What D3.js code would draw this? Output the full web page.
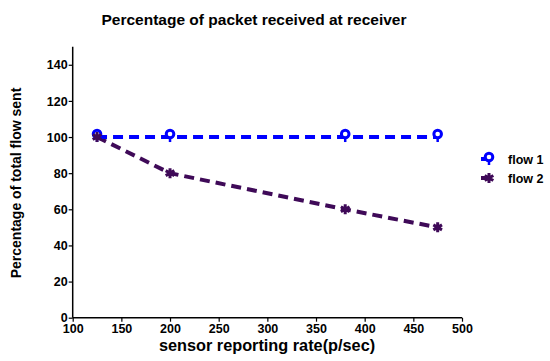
<!DOCTYPE html>
<html>
<head>
  <meta charset="utf-8">
  <script src="https://d3js.org/d3.v7.min.js"></script>
  <style>
    body { margin: 0; padding: 0; background: #fff; }
    text { font-family: "Liberation Sans", Arial, sans-serif; font-weight: bold; }
  </style>
</head>
<body>
  <div id="chart"></div>
  <script>
    // data
    var rates = [125, 200, 380, 475]
    var flow1 = [100, 100, 100, 100]
    var flow2 = [100, 80, 60, 50]
    var seriesNames = ["flow 1", "flow 2"]
    var xTicks = [100, 150, 200, 250, 300, 350, 400, 450, 500]
    var yTicks = [0, 20, 40, 60, 80, 100, 120, 140]

    var width = 550, height = 361
    var svg = d3.select("#chart").append("svg")
      .attr("width", width)
      .attr("height", height)

    var x = d3.scaleLinear().domain([100, 500]).range([72.7, 462])
    var y = d3.scaleLinear().domain([0, 150]).range([317.7, 46.7])

    // axes
    var xAxis = svg.append("g")
      .attr("transform", "translate(0," + y(0) + ")")
      .call(d3.axisBottom(x).tickValues(xTicks).tickSize(4).tickPadding(1))
    var yAxis = svg.append("g")
      .attr("transform", "translate(" + x(100) + ",0)")
      .call(d3.axisLeft(y).tickValues(yTicks).tickSize(4).tickPadding(1))

    ;[xAxis, yAxis].forEach(function (a) {
      a.select(".domain").attr("stroke", "#000").attr("stroke-width", 1.5)
      a.selectAll(".tick line").attr("stroke", "#000").attr("stroke-width", 1.2)
      a.selectAll(".tick text").attr("fill", "#000").style("font-size", "12.5px")
    })
    yAxis.selectAll(".tick text").attr("dy", "0.33em")
    xAxis.selectAll(".tick text").attr("dy", "0.85em")
    // x axis line has no outer tick at top, y axis goes up to 150
    xAxis.select(".domain").attr("d", "M" + x(100) + ",0H" + x(500))
    yAxis.select(".domain").attr("d", "M0," + y(150) + "V" + y(0))

    // titles
    svg.append("text").attr("x", 254).attr("y", 25).attr("text-anchor", "middle")
      .style("font-size", "15.5px").text("Percentage of packet received at receiver")
    svg.append("text").attr("x", 267).attr("y", 351).attr("text-anchor", "middle")
      .style("font-size", "16.3px").text("sensor reporting rate(p/sec)")
    svg.append("text").attr("transform", "translate(21,183) rotate(-90)")
      .attr("text-anchor", "middle").style("font-size", "14px").text("Percentage of total flow sent")

    var line = d3.line()
      .x(function (d, i) { return x(rates[i]) })
      .y(function (d) { return y(d) })

    var blue = "#0000ff", purple = "#3f0a58"

    function drawFlow1Marker(g, cx, cy) {
      g.append("line").attr("x1", cx).attr("x2", cx).attr("y1", cy - 3).attr("y2", cy + 5)
        .attr("stroke", blue).attr("stroke-width", 2.5)
      g.append("circle").attr("cx", cx).attr("cy", cy - 3).attr("r", 3.8)
        .attr("fill", "#fff").attr("stroke", blue).attr("stroke-width", 3)
    }
    function drawFlow2Marker(g, cx, cy) {
      g.append("path")
        .attr("d", d3.symbol().type(d3.symbolAsterisk).size(70)())
        .attr("transform", "translate(" + cx + "," + cy + ")")
        .attr("fill", "none").attr("stroke", purple).attr("stroke-width", 3)
      g.append("circle").attr("cx", cx).attr("cy", cy).attr("r", 2.5).attr("fill", purple)
    }

    // flow 2 drawn first so flow 1 sits on top at the shared point
    svg.append("path").datum(flow2)
      .attr("d", line).attr("fill", "none").attr("stroke", purple)
      .attr("stroke-width", 4).attr("stroke-dasharray", "10,6")
    svg.append("path").datum(flow1)
      .attr("d", line).attr("fill", "none").attr("stroke", blue)
      .attr("stroke-width", 4).attr("stroke-dasharray", "10,6")

    var m1 = svg.append("g"), m2 = svg.append("g")
    flow1.forEach(function (v, i) { drawFlow1Marker(m1, x(rates[i]), y(v)) })
    flow2.forEach(function (v, i) { drawFlow2Marker(m2, x(rates[i]), y(v)) })

    // legend
    var leg = svg.append("g")
    seriesNames.forEach(function (name, i) {
      var ly = 159 + i * 19
      var col = i == 0 ? blue : purple
      leg.append("line").attr("x1", 481).attr("x2", 489).attr("y1", ly).attr("y2", ly)
        .attr("stroke", col).attr("stroke-width", 4)
      if (i == 0) drawFlow1Marker(leg, 489, ly + 1)
      else drawFlow2Marker(leg, 489, ly)
      leg.append("text").attr("x", 508).attr("y", ly + 4.5)
        .style("font-size", "12.5px").text(name)
    })
  </script>
</body>
</html>
